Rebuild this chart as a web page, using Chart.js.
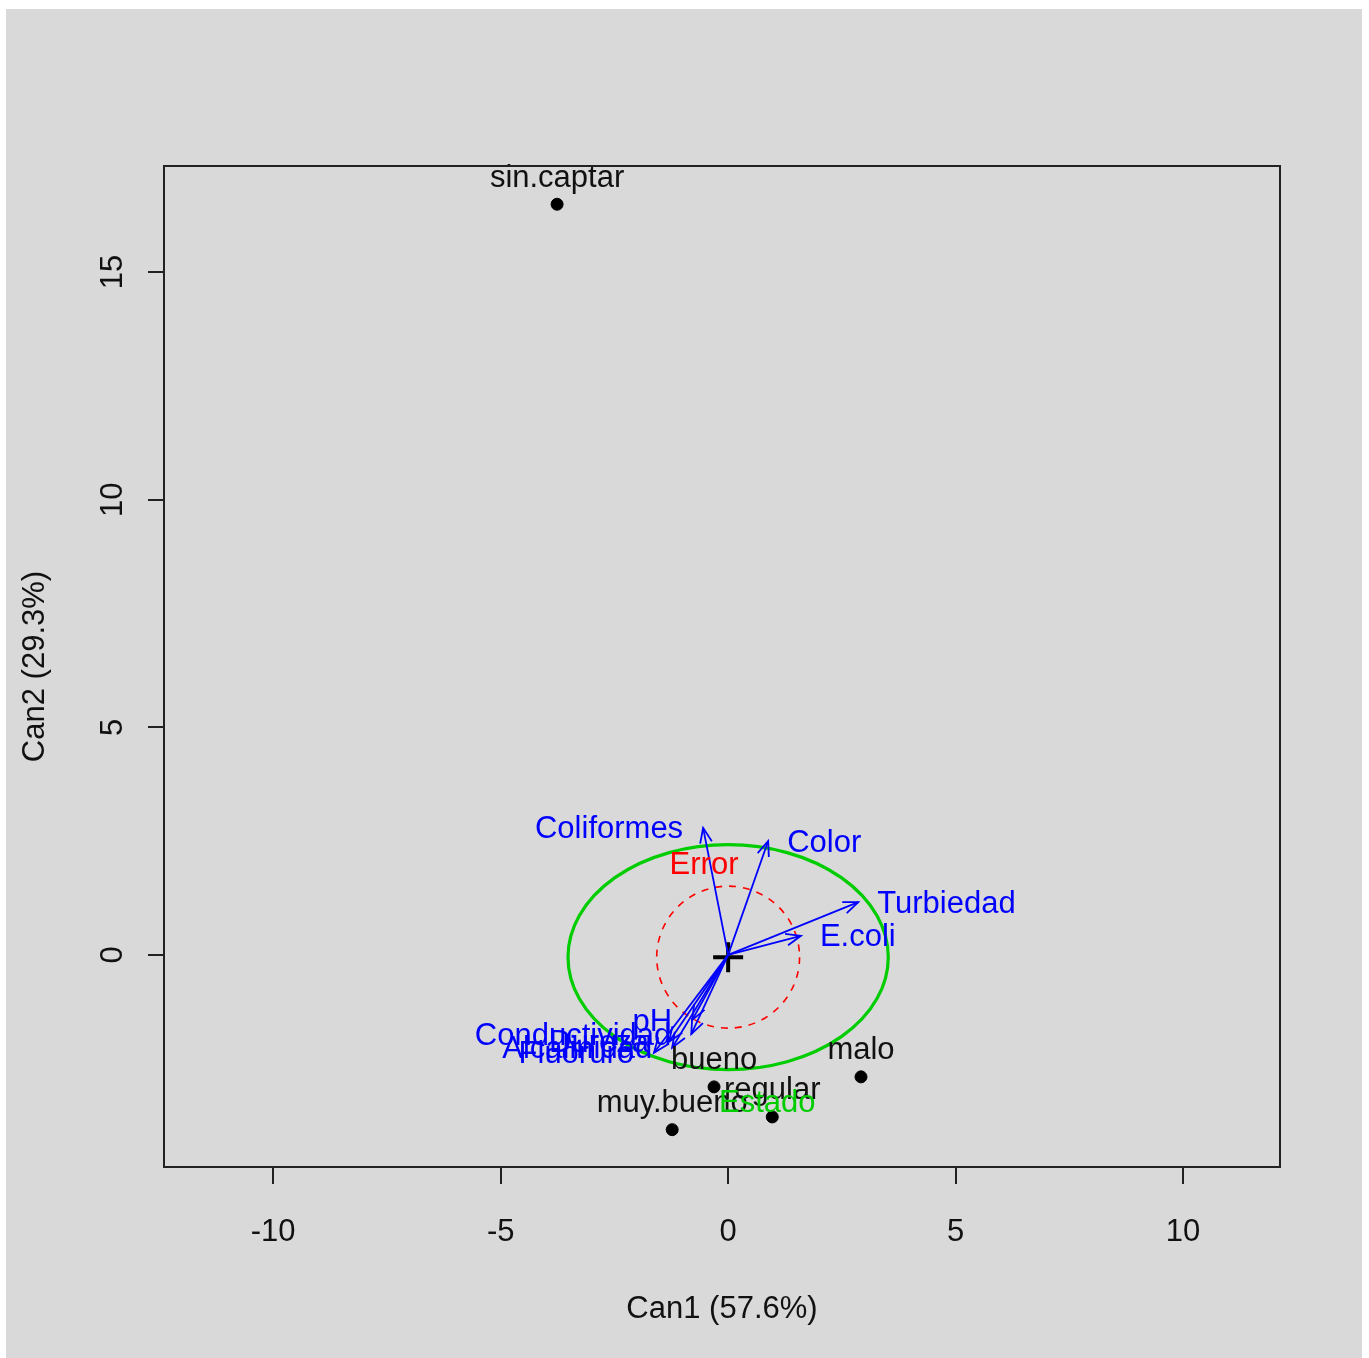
<!DOCTYPE html>
<html>
<head>
<meta charset="utf-8">
<script src="https://cdn.jsdelivr.net/npm/chart.js@4.4.1/dist/chart.umd.min.js"></script>
<style>
  html, body { margin: 0; padding: 0; background: #fff; }
  #wrap { width: 1369px; height: 1358px; }
</style>
</head>
<body>
<div id="wrap"><canvas id="can-chart"></canvas></div>
<script>
// group means (canonical scores)
const groups = ['sin.captar', 'malo', 'bueno', 'regular', 'muy.bueno'];
const groupX = [-3.76, 2.92, -0.31, 0.97, -1.23];
const groupY = [16.49, -2.68, -2.90, -3.56, -3.84];

// variable vectors
const vars = ['Coliformes', 'Color', 'Turbiedad', 'E.coli', 'pH', 'Conductividad', 'Dureza', 'Alcalinidad', 'Fluoruro'];
const varX = [-0.55, 0.88, 2.86, 1.60, -0.79, -0.81, -1.30, -1.23, -1.63];
const varY = [2.79, 2.50, 1.16, 0.42, -1.43, -1.74, -1.91, -2.04, -2.15];

// ellipses: [rx, ry]
const hypRadii = [3.52, 2.47];
const errRadii = [1.57, 1.56];
const centre = [0, -0.05];
const hypLabel = ['Estado', 0.86, -3.21];
const errLabel = ['Error', -0.53, 2.0];

const xTicks = [-10, -5, 0, 5, 10];
const yTicks = [0, 5, 10, 15];

const FONT = '"Liberation Sans", Arial, sans-serif';
const BLUE = '#0000ff';
const RED = '#ff0000';
const GREEN = '#00cd00';

const arrowSets = vars.map((v, i) => ({
  label: v,
  type: 'line',
  data: [{x: 0, y: 0}, {x: varX[i], y: varY[i]}],
  borderColor: BLUE,
  borderWidth: 1.8,
  pointRadius: 0,
  fill: false,
}));

const decor = {
  id: 'decor',
  beforeDraw(chart) {
    const {ctx} = chart;
    ctx.save();
    ctx.fillStyle = '#fff';
    ctx.fillRect(0, 0, chart.width, chart.height);
    ctx.fillStyle = '#d9d9d9';
    ctx.fillRect(6, 9, 1356, chart.height - 9);
    ctx.restore();
  },
  beforeDatasetsDraw(chart) {
    const {ctx, scales: {x, y}} = chart;
    const cx = x.getPixelForValue(centre[0]);
    const cy = y.getPixelForValue(centre[1]);
    ctx.save();
    // error circle
    ctx.strokeStyle = RED;
    ctx.lineWidth = 1.6;
    ctx.setLineDash([7, 7]);
    ctx.beginPath();
    ctx.ellipse(cx, cy, x.getPixelForValue(errRadii[0]) - x.getPixelForValue(0),
      y.getPixelForValue(0) - y.getPixelForValue(errRadii[1]), 0, 0, Math.PI * 2);
    ctx.stroke();
    // hypothesis ellipse
    ctx.setLineDash([]);
    ctx.strokeStyle = GREEN;
    ctx.lineWidth = 3.2;
    ctx.beginPath();
    ctx.ellipse(cx, cy, x.getPixelForValue(hypRadii[0]) - x.getPixelForValue(0),
      y.getPixelForValue(0) - y.getPixelForValue(hypRadii[1]), 0, 0, Math.PI * 2);
    ctx.stroke();
    ctx.restore();
  },
  afterDatasetsDraw(chart) {
    const {ctx, chartArea: a, scales: {x, y}} = chart;
    ctx.save();
    // arrow heads
    ctx.strokeStyle = BLUE;
    ctx.lineWidth = 1.8;
    vars.forEach((v, i) => {
      const x0 = x.getPixelForValue(0), y0 = y.getPixelForValue(0);
      const x1 = x.getPixelForValue(varX[i]), y1 = y.getPixelForValue(varY[i]);
      const ang = Math.atan2(y1 - y0, x1 - x0);
      const len = 16, spread = 0.38;
      ctx.beginPath();
      ctx.moveTo(x1 - len * Math.cos(ang - spread), y1 - len * Math.sin(ang - spread));
      ctx.lineTo(x1, y1);
      ctx.lineTo(x1 - len * Math.cos(ang + spread), y1 - len * Math.sin(ang + spread));
      ctx.stroke();
    });
    ctx.font = '31px ' + FONT;
    ctx.textBaseline = 'middle';
    // variable labels
    ctx.fillStyle = BLUE;
    vars.forEach((v, i) => {
      const px = x.getPixelForValue(varX[i]), py = y.getPixelForValue(varY[i]);
      if (varX[i] < 0) {
        ctx.textAlign = 'right';
        ctx.fillText(v, px - 20, py + 2);
      } else {
        ctx.textAlign = 'left';
        ctx.fillText(v, px + 19, py + 2);
      }
    });
    // group labels
    ctx.textAlign = 'center';
    ctx.fillStyle = '#111';
    groups.forEach((g, i) => {
      ctx.fillText(g, x.getPixelForValue(groupX[i]), y.getPixelForValue(groupY[i]) - 26);
    });
    ctx.fillStyle = GREEN;
    ctx.fillText(hypLabel[0], x.getPixelForValue(hypLabel[1]), y.getPixelForValue(hypLabel[2]) + 2);
    ctx.fillStyle = RED;
    ctx.fillText(errLabel[0], x.getPixelForValue(errLabel[1]), y.getPixelForValue(errLabel[2]) + 2);
    // box
    ctx.strokeStyle = '#222';
    ctx.lineWidth = 2;
    ctx.strokeRect(a.left, a.top, a.right - a.left, a.bottom - a.top);
    // rotated y tick labels
    ctx.fillStyle = '#111';
    yTicks.forEach(t => {
      ctx.save();
      ctx.translate(113, y.getPixelForValue(t));
      ctx.rotate(-Math.PI / 2);
      ctx.textAlign = 'center';
      ctx.fillText(String(t), 0, 0);
      ctx.restore();
    });
    ctx.restore();
  },
};

const canChart = new Chart('can-chart', {
  type: 'scatter',
  data: {
    datasets: [
      ...arrowSets,
      {
        label: 'grupos',
        data: groupX.map((v, i) => ({x: v, y: groupY[i]})),
        backgroundColor: '#000',
        borderColor: '#000',
        pointRadius: 6,
      },
      {
        label: 'centro',
        data: [{x: centre[0], y: centre[1]}],
        pointStyle: 'cross',
        pointRadius: 15,
        borderWidth: 4,
        borderColor: '#000',
      },
    ],
  },
  options: {
    responsive: true,
    maintainAspectRatio: false,
    animation: false,
    layout: {padding: {top: 166, right: 89, left: 0, bottom: 0}},
    plugins: {legend: {display: false}, tooltip: {enabled: false}},
    scales: {
      x: {
        min: -12.4,
        max: 12.13,
        afterBuildTicks: s => { s.ticks = xTicks.map(v => ({value: v})); },
        afterFit: s => { s.height = 191; },
        grid: {drawOnChartArea: false, tickLength: 17, color: '#222', lineWidth: 2},
        border: {display: false},
        ticks: {color: '#111', font: {family: FONT, size: 31}, padding: 30, maxRotation: 0,
          callback: v => String(v)},
        title: {display: true, text: 'Can1 (57.6%)', color: '#111',
          font: {family: FONT, size: 31}, padding: {top: 0, bottom: 30}},
      },
      y: {
        min: -4.66,
        max: 17.33,
        afterBuildTicks: s => { s.ticks = yTicks.map(v => ({value: v})); },
        afterFit: s => { s.width = 164; },
        grid: {drawOnChartArea: false, tickLength: 16, color: '#222', lineWidth: 2},
        border: {display: false},
        ticks: {display: false},
        title: {display: true, text: 'Can2 (29.3%)', color: '#111',
          font: {family: FONT, size: 31}, padding: {top: 17, bottom: 0}},
      },
    },
  },
  plugins: [decor],
});
</script>
</body>
</html>
